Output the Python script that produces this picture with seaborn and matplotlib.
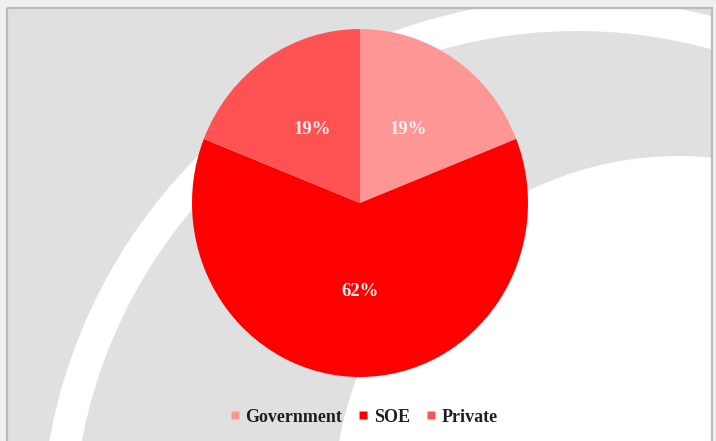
import matplotlib
matplotlib.use('Agg')
import matplotlib.pyplot as plt
import seaborn as sns
from matplotlib.patches import Rectangle, Circle
from matplotlib.lines import Line2D

# ---- data ----
categories = ['Government', 'SOE', 'Private']
shares = [19, 62, 19]
colors = ['#FF9696', '#FF0000', '#FF5252']

sns.set_theme(style='white')
plt.rcParams['font.family'] = ['Liberation Serif', 'DejaVu Serif']

W, H = 716, 441
fig = plt.figure(figsize=(W / 100, H / 100), dpi=100)

# ---- decorative background ----
bg = fig.add_axes([0, 0, 1, 1])
bg.set_xlim(0, W)
bg.set_ylim(H, 0)
bg.axis('off')
bg.add_patch(Rectangle((0, 0), W, H, facecolor='#F0F0F0', edgecolor='none', zorder=0))
frame = Rectangle((7, 8), 705, 440, facecolor='#E0E0E0', edgecolor='none', zorder=1)
bg.add_patch(frame)
for (ccx, ccy, r, col, z) in [(577, 535, 536, 'white', 2),
                              (577, 535, 504, '#E0E0E0', 3),
                              (679, 501, 345, 'white', 4)]:
    c = Circle((ccx, ccy), r, facecolor=col, edgecolor='none', zorder=z)
    bg.add_patch(c)
    c.set_clip_path(frame)
bg.add_patch(Rectangle((7, 8), 705, 440, facecolor='none', edgecolor='#BBBBBB',
                       lw=1.6, zorder=5))

# ---- pie ----
cx, cy, rx, ry = 360, 203, 168, 174
ax = fig.add_axes([(cx - rx) / W, (H - (cy + ry)) / H, 2 * rx / W, 2 * ry / H])
ax.patch.set_alpha(0)
wedges, texts, autotexts = ax.pie(
    shares, colors=colors, startangle=90, counterclock=False,
    autopct='%.0f%%', pctdistance=0.51,
    wedgeprops=dict(linewidth=0),
    textprops=dict(color='#FFEEEE', fontsize=13.5, fontweight='bold'))
ax.set_aspect('auto')
ax.set_xlim(-1, 1)
ax.set_ylim(-1, 1)
ax.axis('off')

# ---- legend ----
handles = [Line2D([], [], linestyle='none', marker='s', markersize=5.2,
                  markerfacecolor=c, markeredgecolor='none') for c in colors]
fig.legend(handles, categories, loc='center', bbox_to_anchor=(364 / W, 1 - 417 / H),
           ncol=3, frameon=False, handlelength=0.5, handletextpad=0.35,
           columnspacing=0.9, prop=dict(size=13, weight='bold'),
           labelcolor='#1E1E1E')

fig.savefig('out.png', dpi=100)
